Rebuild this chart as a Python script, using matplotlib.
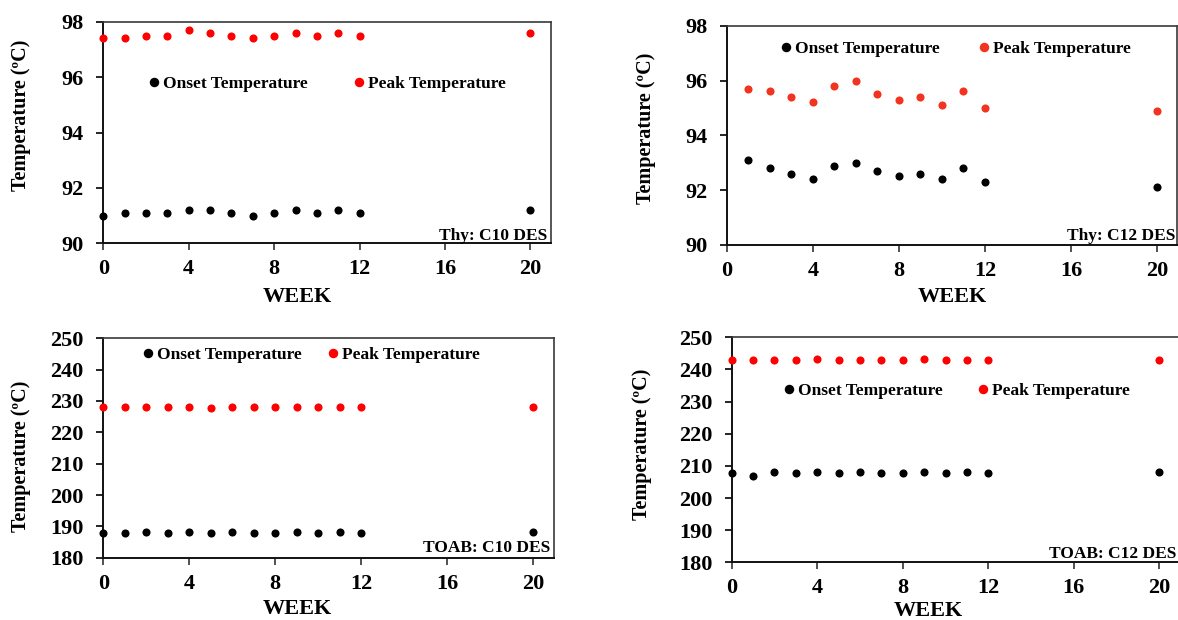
import matplotlib
matplotlib.use("Agg")
import matplotlib.pyplot as plt
from matplotlib.lines import Line2D

plt.rcParams['font.family'] = ['Liberation Serif', 'DejaVu Serif']
plt.rcParams['font.weight'] = 'bold'

# ---------------- data ----------------
weeks_full = [0, 1, 2, 3, 4, 5, 6, 7, 8, 9, 10, 11, 12, 20]
weeks_c12thy = [1, 2, 3, 4, 5, 6, 7, 8, 9, 10, 11, 12, 20]

thy_c10_onset = [91.0, 91.1, 91.1, 91.1, 91.2, 91.2, 91.1, 91.0, 91.1, 91.2, 91.1, 91.2, 91.1, 91.2]
thy_c10_peak = [97.4, 97.4, 97.5, 97.5, 97.7, 97.6, 97.5, 97.4, 97.5, 97.6, 97.5, 97.6, 97.5, 97.6]

thy_c12_onset = [93.1, 92.8, 92.6, 92.4, 92.9, 93.0, 92.7, 92.5, 92.6, 92.4, 92.8, 92.3, 92.1]
thy_c12_peak = [95.7, 95.6, 95.4, 95.2, 95.8, 96.0, 95.5, 95.3, 95.4, 95.1, 95.6, 95.0, 94.9]

toab_c10_onset = [188.0, 188.0, 188.2, 188.0, 188.2, 187.8, 188.2, 188.0, 188.0, 188.2, 188.0, 188.2, 188.0, 188.2]
toab_c10_peak = [228.0, 228.0, 228.2, 228.0, 228.2, 227.8, 228.0, 228.2, 228.0, 228.2, 228.0, 228.2, 228.0, 228.2]

toab_c12_onset = [207.9, 207.0, 208.1, 207.9, 208.1, 207.7, 208.1, 207.9, 207.9, 208.1, 207.9, 208.1, 207.9, 208.1]
toab_c12_peak = [243.0, 242.8, 243.0, 243.0, 243.2, 242.8, 243.0, 243.0, 242.8, 243.2, 243.0, 243.0, 243.0, 243.0]

x_ticks = [0, 4, 8, 12, 16, 20]
thy_yticks = [90, 92, 94, 96, 98]
toab_yticks = [180, 190, 200, 210, 220, 230, 240, 250]

legend_labels = ["Onset Temperature", "Peak Temperature"]
panel_labels = ["Thy: C10 DES", "Thy: C12 DES", "TOAB: C10 DES", "TOAB: C12 DES"]
x_label = "WEEK"
y_label = "Temperature (ºC)"

# ---------------- layout ----------------
W, H = 1178, 620
fig = plt.figure(figsize=(W / 100, H / 100), dpi=100)


def px(x, y):
    return (x / W, 1 - y / H)


def add_ax(left, top, right, bottom):
    return fig.add_axes([left / W, 1 - bottom / H, (right - left) / W, (bottom - top) / H])


ONSET_C = 'black'
LEG_FS = 12.5


def style(ax, xlim, ylim, yticks):
    ax.set_xlim(*xlim)
    ax.set_ylim(*ylim)
    ax.set_xticks(x_ticks)
    ax.set_yticks(yticks)
    ax.tick_params(axis='both', direction='out', length=5, width=1.2, labelsize=16)
    ax.tick_params(axis='x', pad=6.5, color='#333333')
    ax.tick_params(axis='y', pad=9)
    ax.tick_params(top=False, right=False)
    for lab in ax.get_xticklabels() + ax.get_yticklabels():
        lab.set_fontweight('bold')
    for s in ['left', 'bottom']:
        ax.spines[s].set_linewidth(1.4)
        ax.spines[s].set_color('#111111')
    for s in ['top', 'right']:
        ax.spines[s].set_linewidth(1.2)
        ax.spines[s].set_color('#3a3a3a')


def legend(ax, marker_x, marker_y, colspace, peak_c):
    handles = [Line2D([], [], ls='none', marker='o', ms=5.8, color=ONSET_C),
               Line2D([], [], ls='none', marker='o', ms=5.8, color=peak_c)]
    off = 0.25 * LEG_FS * 100 / 72
    ax.legend(handles, legend_labels, ncol=2, loc='center left',
              bbox_to_anchor=px(marker_x - off, marker_y), bbox_transform=fig.transFigure,
              frameon=False, handlelength=0.5, handletextpad=0.28, columnspacing=colspace,
              borderpad=0, borderaxespad=0,
              prop={'family': 'Liberation Serif', 'weight': 'bold', 'size': LEG_FS})


def labels(ylab_xy, week_xy, tag, tag_xy):
    fig.text(*px(*ylab_xy), y_label, rotation=90, ha='center', va='center',
             fontsize=14.5, fontweight='bold')
    fig.text(*px(*week_xy), x_label, ha='center', va='baseline',
             fontsize=16, fontweight='bold')
    fig.text(*px(*tag_xy), tag, ha='right', va='baseline',
             fontsize=12.5, fontweight='bold')


def scatter(ax, x, onset, peak, peak_c):
    ax.scatter(x, onset, s=34, color=ONSET_C, zorder=3, clip_on=False, linewidths=0)
    ax.scatter(x, peak, s=34, color=peak_c, zorder=3, clip_on=False, linewidths=0)


# Panel 1: Thy C10
ax1 = add_ax(103.3, 21.7, 550.7, 243.3)
scatter(ax1, weeks_full, thy_c10_onset, thy_c10_peak, '#ff0000')
style(ax1, (0, 20.95), (90, 98), thy_yticks)
legend(ax1, 154, 84, 2.7, '#ff0000')
labels((20.6, 115), (297, 301.5), panel_labels[0], (547, 240))

# Panel 2: Thy C12
ax2 = add_ax(726.7, 25.7, 1176.5, 245)
scatter(ax2, weeks_c12thy, thy_c12_onset, thy_c12_peak, '#f2331f')
style(ax2, (0, 20.9), (90, 98), thy_yticks)
legend(ax2, 786, 49, 2.3, '#f2331f')
labels((646, 128), (952.7, 302.5), panel_labels[1], (1175, 240))

# Panel 3: TOAB C10
ax3 = add_ax(103.3, 338.3, 554.3, 557.7)
scatter(ax3, weeks_full, toab_c10_onset, toab_c10_peak, '#ff0000')
style(ax3, (0, 20.98), (180, 250), toab_yticks)
legend(ax3, 148, 355, 1.55, '#ff0000')
labels((20.6, 456), (297, 614.5), panel_labels[2], (550, 552))

# Panel 4: TOAB C12 (right edge cropped)
ax4 = add_ax(731.7, 337.3, 1180.7, 562.3)
scatter(ax4, weeks_full, toab_c12_onset, toab_c12_peak, '#ff0000')
style(ax4, (0, 21.0), (180, 250), toab_yticks)
legend(ax4, 789, 391, 2.07, '#ff0000')
labels((642.5, 444), (928, 615.5), panel_labels[3], (1176, 558.5))

fig.savefig("out.png", dpi=100)
